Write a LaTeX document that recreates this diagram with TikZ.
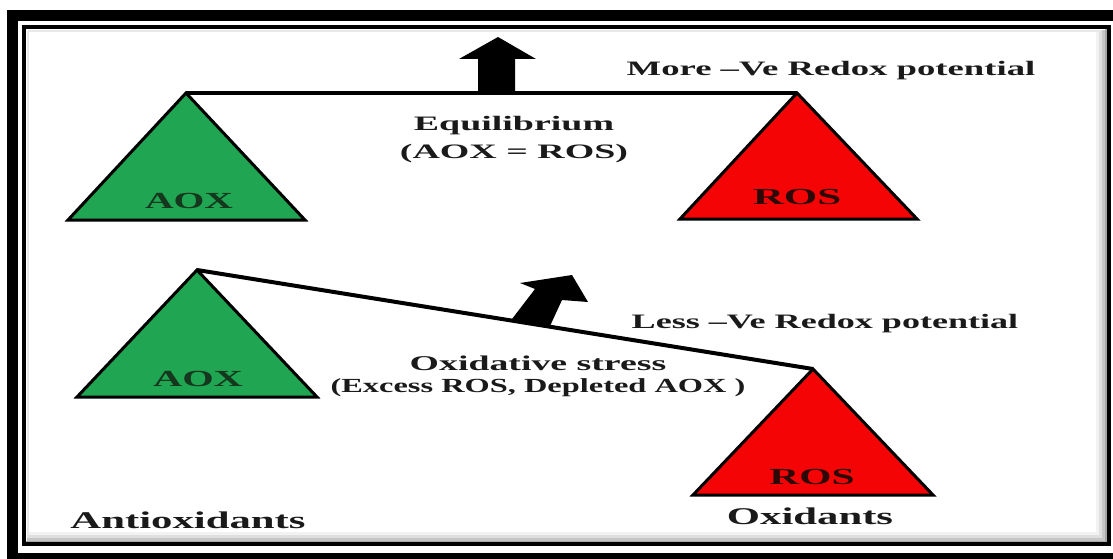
\documentclass[tikz,border=0pt]{standalone}
\usepackage{fontspec}
\usepackage{graphicx}
\setmainfont{Liberation Serif}
\definecolor{aoxgreen}{RGB}{32,165,82}
\definecolor{rosred}{RGB}{244,4,4}
\definecolor{txt}{RGB}{26,26,26}
\definecolor{aoxtxt}{RGB}{20,55,30}
\definecolor{rostxt}{RGB}{45,8,8}
\newcommand{\wt}[3]{\fontsize{#1}{#1}\selectfont\bfseries\scalebox{#2}[1]{#3}}
\tikzset{
  lbl/.style={inner sep=0pt, anchor=base, text=txt},
  tri/.style={draw=black, line width=3pt, line join=miter},
  beam/.style={line width=4pt},
  blockarrow/.style={fill=black}
}
\begin{document}
\begin{tikzpicture}[x=1pt,y=-1pt]
\useasboundingbox (0,0) rectangle (1113,559);
\clip (0,0) rectangle (1113,559);
\fill[white] (0,0) rectangle (1113,559);
% frames
\draw[line width=11.5pt] (12.5,15.5) rectangle (1122,558.5);
\draw[gray!18, line width=2.5pt] (28,31) -- (1104,31);
\draw[gray!18, line width=2.5pt] (28,31) -- (28,540);
\draw[gray!10, line width=3pt] (1097,32) -- (1097,533) -- (29,533);
\draw[gray!25, line width=3pt] (1100,31) -- (1100,536) -- (28,536);
\draw[gray!45, line width=3pt] (1103,30) -- (1103,539) -- (27,539);
\draw[gray!70, line width=2pt] (1106,29) -- (1106,541.5) -- (26,541.5);
\draw[line width=3.5pt] (24,27) rectangle (1109,544);
% top balance
\coordinate (A1) at (186,93);
\coordinate (R1) at (797,93);
\filldraw[tri, fill=aoxgreen] (A1) -- (305,220) -- (68,220) -- cycle;
\filldraw[tri, fill=rosred] (R1) -- (917,219) -- (680,219) -- cycle;
\draw[beam] (A1) -- (R1);
\fill[blockarrow] (498,37) -- (536,59) -- (515,59) -- (515,93) -- (478,93) -- (478,59) -- (459,59) -- cycle;
% bottom balance
\coordinate (A2) at (197,270);
\coordinate (R2) at (813,369);
\filldraw[tri, fill=aoxgreen] (A2) -- (317,397) -- (77,397) -- cycle;
\filldraw[tri, fill=rosred] (R2) -- (933,495) -- (693,495) -- cycle;
\draw[beam] (A2) -- (R2);
\fill[blockarrow] (512,319) -- (535,289) -- (520,283) -- (572,275) -- (588,302) -- (562,300) -- (550,326) -- cycle;
% labels
\node[lbl] (more) at (831,76) {\wt{20.5}{1.79}{More \textendash Ve Redox potential}};
\node[lbl] (eq) at (514,131) {\wt{20.5}{1.85}{Equilibrium}};
\node[lbl] (eq2) at (514,158) {\wt{20.5}{1.85}{(AOX = ROS)}};
\node[lbl, text=aoxtxt] (aoxt) at (189,208) {\wt{23}{1.72}{AOX}};
\node[lbl, text=rostxt] (rost) at (797,204) {\wt{23}{1.87}{ROS}};
\node[lbl, text=aoxtxt] (aoxb) at (198,386) {\wt{23}{1.76}{AOX}};
\node[lbl, text=rostxt] (rosb) at (812,484) {\wt{23}{1.8}{ROS}};
\node[lbl] (less) at (825,328) {\wt{20.5}{1.76}{Less \textendash Ve Redox potential}};
\node[lbl] (ox) at (538,370) {\wt{21}{1.8}{Oxidative stress}};
\node[lbl] (exc) at (538,392) {\wt{20}{1.62}{(Excess ROS, Depleted AOX )}};
\node[lbl] (oxid) at (810,524) {\wt{24}{1.78}{Oxidants}};
\node[lbl] (anti) at (188,528) {\wt{24}{1.78}{Antioxidants}};
\end{tikzpicture}
\end{document}
